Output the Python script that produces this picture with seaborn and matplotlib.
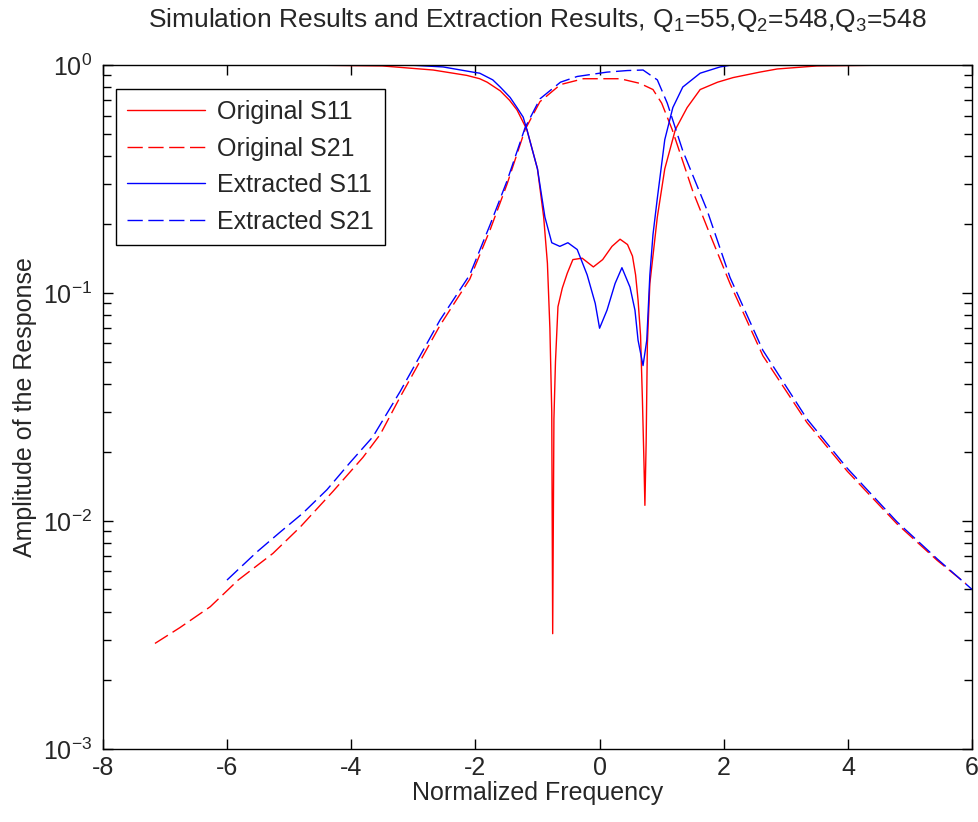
"""Simulated vs extracted S-parameters of a coupled-resonator filter (log amplitude)."""

import matplotlib
matplotlib.use("Agg")
import matplotlib.pyplot as plt
import pandas as pd
import seaborn as sns

# ---- values ----
orig_s11_x = [-4.94, -3.5, -2.68, -2.14, -1.93, -1.81, -1.6, -1.45, -1.33, -1.17, -1.0,
              -0.9, -0.84, -0.8, -0.77, -0.755, -0.735, -0.71, -0.67, -0.6, -0.52,
              -0.43, -0.28, -0.1, 0.05, 0.2, 0.33, 0.45, 0.53, 0.58, 0.62, 0.66, 0.69,
              0.715, 0.73, 0.75, 0.77, 0.81, 0.93, 1.05, 1.22, 1.41, 1.62, 1.9, 2.15,
              2.58, 2.86, 3.5, 4.9]
orig_s11_y = [1.0, 0.99, 0.95, 0.9, 0.87, 0.84, 0.77, 0.7, 0.635, 0.52, 0.35,
              0.215, 0.135, 0.07, 0.03, 0.0032, 0.028, 0.05, 0.087, 0.105, 0.122,
              0.14, 0.142, 0.13, 0.14, 0.16, 0.172, 0.163, 0.145, 0.12, 0.093, 0.065, 0.034,
              0.018, 0.0117, 0.022, 0.06, 0.11, 0.215, 0.35, 0.52, 0.65, 0.78, 0.84, 0.88,
              0.93, 0.96, 0.99, 1.0]

orig_s21_x = [-7.16, -6.76, -6.27, -5.82, -5.26, -4.82, -4.29, -3.81, -3.53, -3.21, -2.57,
              -2.09, -1.76, -1.49, -1.2, -0.96, -0.63, -0.26, 0.33, 0.65, 0.86, 1.0,
              1.17, 1.5, 1.78, 2.1, 2.63, 3.34, 3.99, 4.79, 5.44, 5.9]
orig_s21_y = [0.0029, 0.0034, 0.0042, 0.0055, 0.0072, 0.0094, 0.0135, 0.019, 0.024, 0.035, 0.072,
              0.115, 0.19, 0.30, 0.52, 0.69, 0.82, 0.87, 0.87, 0.83, 0.78, 0.68,
              0.52, 0.28, 0.18, 0.11, 0.053, 0.027, 0.0165, 0.0097, 0.0067, 0.0053]

ext_s11_x = [-3.1, -2.52, -2.04, -1.93, -1.72, -1.6, -1.44, -1.33, -1.23, -1.17, -1.0,
             -0.88, -0.77, -0.64, -0.51, -0.36, -0.2, -0.07, 0.0, 0.12, 0.25, 0.36,
             0.49, 0.57, 0.62, 0.7, 0.76, 0.81, 0.86, 0.93, 1.05, 1.18, 1.34, 1.62,
             1.94, 2.13]
ext_s11_y = [1.0, 0.98, 0.93, 0.92, 0.86, 0.8, 0.72, 0.65, 0.59, 0.52, 0.35,
             0.215, 0.166, 0.16, 0.166, 0.155, 0.12, 0.09, 0.07, 0.084, 0.11, 0.129,
             0.106, 0.084, 0.062, 0.048, 0.062, 0.12, 0.18, 0.26, 0.47, 0.65, 0.8, 0.92,
             0.98, 1.0]

ext_s21_x = [-6.0, -5.52, -5.15, -4.78, -4.39, -4.02, -3.65, -3.21, -2.57, -2.09, -1.76,
             -1.49, -1.2, -0.96, -0.63, -0.36, 0.12, 0.45, 0.7, 0.93, 1.09, 1.34,
             1.73, 2.1, 2.63, 3.34, 3.99, 4.79, 5.44, 6.0]
ext_s21_y = [0.0055, 0.0073, 0.0089, 0.0108, 0.0137, 0.018, 0.0234, 0.037, 0.076, 0.12, 0.2,
             0.31, 0.53, 0.71, 0.84, 0.89, 0.93, 0.945, 0.95, 0.86, 0.68, 0.42,
             0.231, 0.117, 0.056, 0.028, 0.017, 0.0099, 0.0068, 0.005]

x_ticks = [-8, -6, -4, -2, 0, 2, 4, 6]

series = [
    ("Original S11", orig_s11_x, orig_s11_y, "red", "-"),
    ("Original S21", orig_s21_x, orig_s21_y, "red", (0, (11, 4))),
    ("Extracted S11", ext_s11_x, ext_s11_y, "blue", "-"),
    ("Extracted S21", ext_s21_x, ext_s21_y, "blue", (0, (11, 4))),
]

FS = 18

sns.set_style("ticks")
plt.rcParams["font.family"] = ["Liberation Sans", "DejaVu Sans"]
plt.rcParams["mathtext.fontset"] = "custom"
plt.rcParams["mathtext.rm"] = "Liberation Sans"
plt.rcParams["axes.unicode_minus"] = False

fig = plt.figure(figsize=(9.79, 8.22), dpi=100)
ax = fig.add_axes([0.105, 0.089, 0.888, 0.832])

for name, xs, ys, color, ls in series:
    df = pd.DataFrame({"freq": xs, "amp": ys})
    sns.lineplot(data=df, x="freq", y="amp", ax=ax, color=color, linestyle=ls,
                 linewidth=1.0, label=name, estimator=None, sort=False)

ax.set_yscale("log")
ax.set_xlim(-8, 6)
ax.set_ylim(1e-3, 1)
ax.set_xticks(x_ticks)
ax.set_xticklabels([str(t) for t in x_ticks])
ax.minorticks_off()
ax.yaxis.set_minor_locator(matplotlib.ticker.LogLocator(base=10, subs=range(2, 10)))
ax.tick_params(which="both", direction="in", top=True, right=True, labelsize=FS,
               width=1, color="black")
ax.tick_params(axis="x", pad=5)
ax.tick_params(axis="y", pad=8)
ax.tick_params(which="major", length=7)
ax.tick_params(which="minor", length=6)
for sp in ax.spines.values():
    sp.set_linewidth(1)
    sp.set_color("black")

ax.set_xlabel("Normalized Frequency", fontsize=FS, labelpad=1)
ax.set_ylabel("Amplitude of the Response", fontsize=FS, labelpad=4)
ax.set_title("Simulation Results and Extraction Results, Q$_1$=55,Q$_2$=548,Q$_3$=548",
             fontsize=FS + 1, pad=27)

leg = ax.legend(loc="upper left", bbox_to_anchor=(0.015, 0.965), fontsize=FS,
                frameon=True, fancybox=False, framealpha=1, edgecolor="black",
                handlelength=3.1, handletextpad=0.5, borderpad=0.45, labelspacing=0.5,
                borderaxespad=0)
leg.get_frame().set_linewidth(1)

fig.savefig("out.png", dpi=100)
